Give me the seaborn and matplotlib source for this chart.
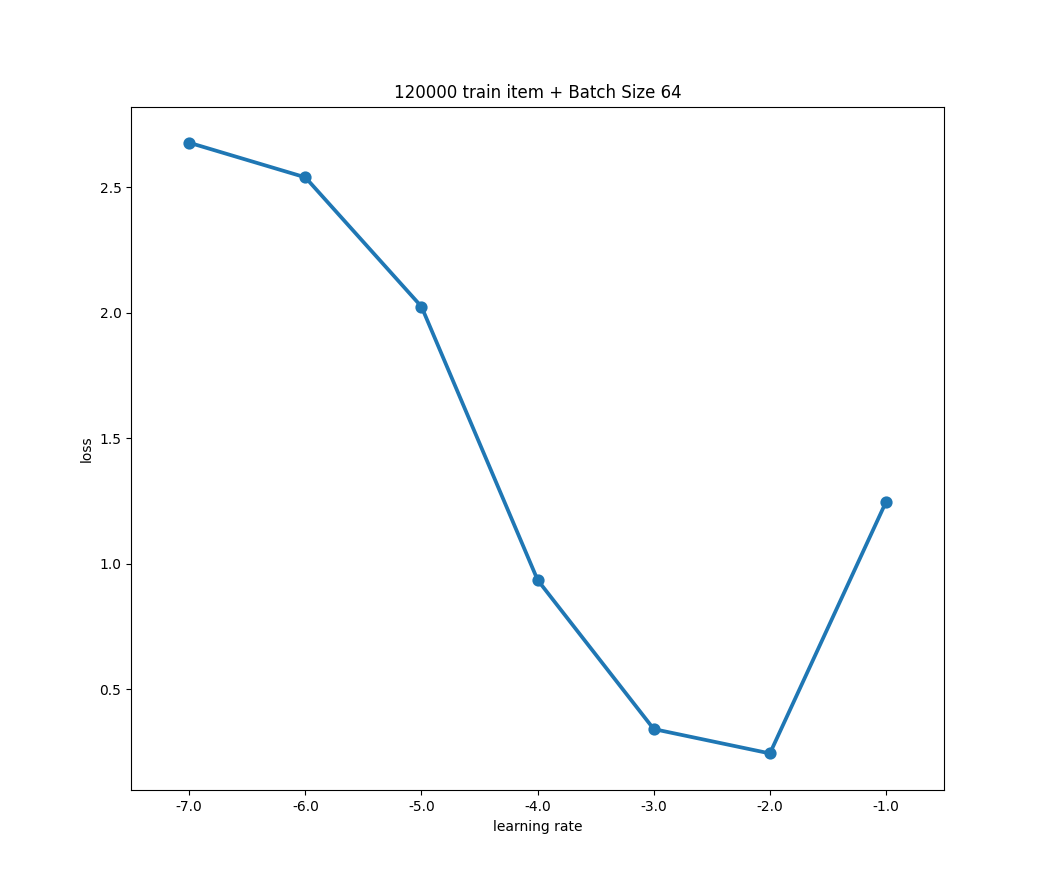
import pandas as pd
import seaborn as sns
import matplotlib.pyplot as plt

# Values
learning_rate = [-7.0, -6.0, -5.0, -4.0, -3.0, -2.0, -1.0]
loss = [2.678, 2.540, 2.025, 0.936, 0.342, 0.245, 1.247]

df = pd.DataFrame({'learning rate': learning_rate, 'loss': loss})

fig, ax = plt.subplots(figsize=(10.49, 8.88), dpi=100)

# Draw the line with markers
sns.pointplot(data=df, x='learning rate', y='loss', ax=ax)
ax.set_title('120000 train item + Batch Size 64')
ax.set_ylim(0.098, 2.822)

fig.savefig('out.png', dpi=100)
